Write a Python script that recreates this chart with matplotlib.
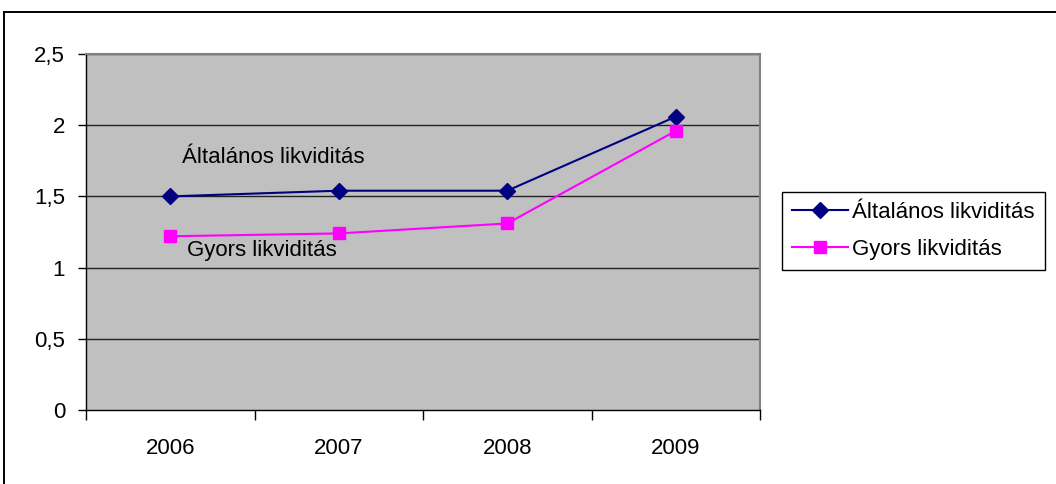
import numpy as np
import matplotlib.pyplot as plt
from matplotlib.patches import Rectangle

plt.rcParams['font.family'] = ['Liberation Sans', 'DejaVu Sans']

# Likviditási mutatók évenként
years = ['2006', '2007', '2008', '2009']
altalanos = [1.50, 1.54, 1.54, 2.06]
gyors = [1.22, 1.24, 1.31, 1.96]
y_ticks = [0, 0.5, 1, 1.5, 2, 2.5]
y_labels = ['0', '0,5', '1', '1,5', '2', '2,5']

FS = 16

fig = plt.figure(figsize=(10.56, 4.84), dpi=100)

# outer chart frame (runs off the right and bottom edges)
fig.patches.append(Rectangle((4 / 1056, -0.2), 1.2, 1.2 - 12 / 484,
                             transform=fig.transFigure, fill=False,
                             edgecolor='black', linewidth=1.4))

ax = fig.add_axes([86 / 1056, 74 / 484, 674 / 1056, 356 / 484])
ax.set_facecolor('#C0C0C0')

x = np.arange(len(years))
ax.plot(x, altalanos, color='#000080', marker='D', markersize=8.5,
        linewidth=1.5, label='Általános likviditás', zorder=3)
ax.plot(x, gyors, color='#FF00FF', marker='s', markersize=8.5,
        linewidth=1.5, label='Gyors likviditás', zorder=3)

ax.set_xlim(-0.5, len(years) - 0.5)
ax.set_ylim(0, 2.5)

ax.set_yticks(y_ticks)
ax.set_yticklabels(y_labels, fontsize=FS)
for yv in y_ticks[1:]:
    ax.axhline(yv, color='#222222', linewidth=1.0, zorder=1)

ax.set_xticks(x)
ax.set_xticklabels(years, fontsize=FS)
ax.tick_params(axis='x', length=0, pad=20)
ax.set_xticks(np.arange(len(years) + 1) - 0.5, minor=True)
ax.tick_params(axis='x', which='minor', length=7, direction='out', width=1)
ax.tick_params(axis='y', length=6, direction='out', width=1, pad=9)

for side in ['top', 'right']:
    ax.spines[side].set_color('#808080')
    ax.spines[side].set_linewidth(1.5)
for side in ['left', 'bottom']:
    ax.spines[side].set_color('black')
    ax.spines[side].set_linewidth(1.0)

ax.text(0.07, 1.77, 'Általános likviditás', fontsize=FS, ha='left', va='center')
ax.text(0.10, 1.12, 'Gyors likviditás', fontsize=FS, ha='left', va='center')

fig.legend(loc='upper left', bbox_to_anchor=(782 / 1056, 1 - 192 / 484),
           fontsize=FS, frameon=True, fancybox=False, edgecolor='black',
           framealpha=1, borderpad=0.45, handlelength=2.5, handletextpad=0.2,
           labelspacing=0.7, borderaxespad=0)

fig.savefig('out.png', dpi=100)
